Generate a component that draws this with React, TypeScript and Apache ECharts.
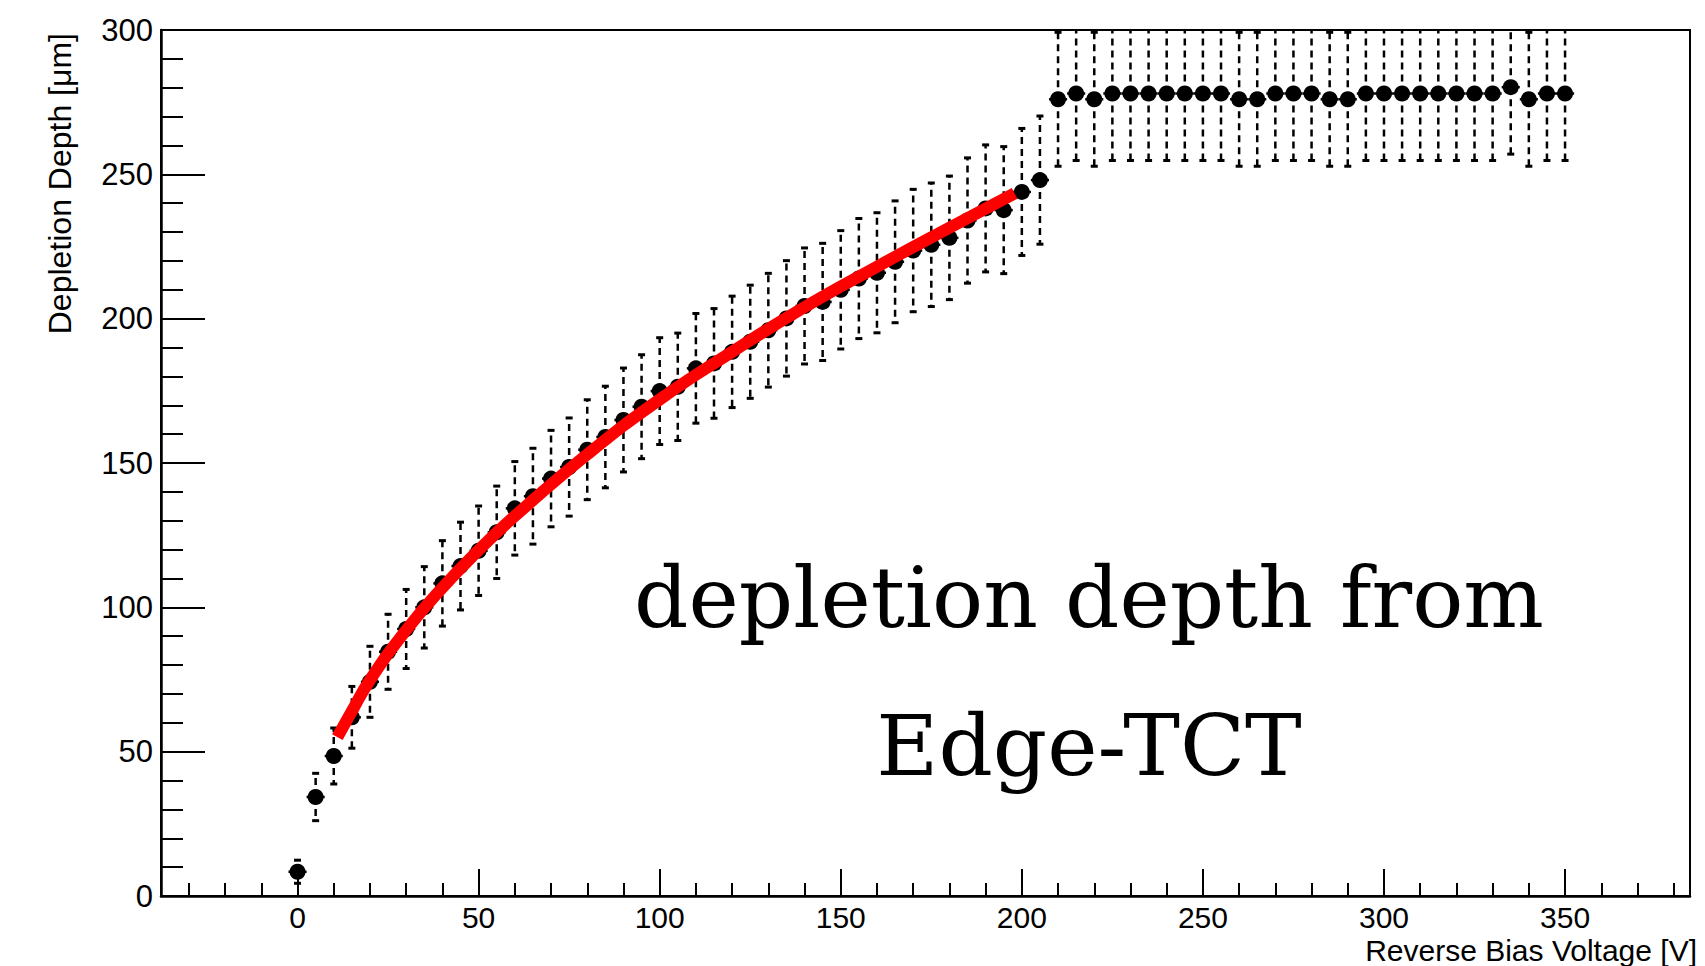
import React, { useEffect, useRef } from "react";
import * as echarts from "echarts";

// ---- data ----
const voltages = [
  0, 5, 10, 15, 20, 25, 30, 35, 40, 45, 50, 55, 60, 65, 70, 75, 80, 85, 90, 95,
  100, 105, 110, 115, 120, 125, 130, 135, 140, 145, 150, 155, 160, 165, 170, 175,
  180, 185, 190, 195, 200, 205, 210, 215, 220, 225, 230, 235, 240, 245, 250, 255,
  260, 265, 270, 275, 280, 285, 290, 295, 300, 305, 310, 315, 320, 325, 330, 335,
  340, 345, 350,
];
const depths = [
  8.4, 34.3, 48.5, 61.9, 74.2, 84.6, 92.5, 100, 108.3, 114.3, 119.6, 126, 134.3,
  138.5, 144.6, 148.6, 154.6, 159, 164.9, 169.5, 174.9, 176.4, 182.8, 184.5, 188.5,
  192, 196, 200.1, 204.4, 205.8, 210, 213.9, 215.9, 219.7, 223.6, 225.6, 228, 234,
  238.2, 237.6, 243.9, 248, 276, 278, 276, 278, 278, 278, 278, 278, 278, 278, 276,
  276, 278, 278, 278, 276, 276, 278, 278, 278, 278, 278, 278, 278, 278, 280.2, 276,
  278, 278,
];
const depthErrors = [
  4, 8.2, 9.7, 10.7, 12.3, 13, 13.7, 14.1, 14.8, 15.2, 15.5, 16, 16.2, 16.6, 16.7,
  17, 17.3, 17.6, 18, 18, 18.5, 18.6, 19, 19, 19.3, 19.6, 19.7, 20, 20.1, 20.3, 20.5,
  20.8, 20.8, 21.1, 21.2, 21.4, 21.4, 21.7, 22, 22, 22, 22.2, 23.2, 23.2, 23.2, 23.2,
  23.2, 23.2, 23.2, 23.2, 23.2, 23.2, 23.2, 23.2, 23.2, 23.2, 23.2, 23.2, 23.2, 23.2,
  23.2, 23.2, 23.2, 23.2, 23.2, 23.2, 23.2, 23.2, 23.2, 23.2, 23.2,
];
const voltageError = 2.5;

// red fit curve
const fitVoltages = [11, 15, 20, 30, 40, 50, 60, 80, 100, 120, 140, 160, 180, 198];
const fitDepths = [55, 64, 74.8, 92.1, 106.8, 119.8, 131.6, 153, 172, 188.5, 204, 218, 231.5, 243.4];

// axes
const xMin = -37.7;
const xMax = 384.5;
const yMin = 0;
const yMax = 300;
const xMajorTicks = [0, 50, 100, 150, 200, 250, 300, 350];
const xMinorTicks = [
  -30, -20, -10, 0, 10, 20, 30, 40, 50, 60, 70, 80, 90, 100, 110, 120, 130, 140,
  150, 160, 170, 180, 190, 200, 210, 220, 230, 240, 250, 260, 270, 280, 290, 300,
  310, 320, 330, 340, 350, 360, 370, 380,
];
const yInterval = 50;

const xTitle = "Reverse Bias Voltage [V]";
const yTitle = "Depletion Depth [\u03bcm]";
const noteLine1 = "depletion depth from";
const noteLine2 = "Edge-TCT";

const SANS = "'Liberation Sans', Arial, Helvetica, sans-serif";
const SERIF = "'DejaVu Serif', serif";

export default function App() {
  const ref = useRef<HTMLDivElement>(null);

  useEffect(() => {
    if (!ref.current) return;
    const chart = echarts.init(ref.current, null, { renderer: "svg" });

    const pointData = voltages.map((v, i) => [v, depths[i]]);
    const errData = voltages.map((v, i) => [v, depths[i], depthErrors[i], voltageError]);
    const fitData = fitVoltages.map((v, i) => [v, fitDepths[i]]);

    const option: any = {
      animation: false,
      backgroundColor: "#ffffff",
      grid: {
        left: 161,
        top: 30,
        right: 15,
        bottom: 70,
        show: true,
        borderColor: "#000",
        borderWidth: 2,
        backgroundColor: "transparent",
      },
      xAxis: [
        {
          type: "value",
          min: xMin,
          max: xMax,
          position: "bottom",
          axisLine: { show: true, onZero: false, lineStyle: { color: "#000", width: 2.5 } },
          axisTick: {
            show: true,
            inside: true,
            length: 27,
            customValues: xMajorTicks,
            lineStyle: { color: "#000", width: 2 },
          },
          axisLabel: {
            show: true,
            customValues: xMajorTicks,
            fontSize: 30,
            lineHeight: 26,
            fontFamily: SANS,
            color: "#000",
            margin: 8,
          },
          splitLine: { show: false },
        },
        {
          type: "value",
          min: xMin,
          max: xMax,
          position: "bottom",
          axisLine: { show: false, onZero: false },
          axisTick: {
            show: true,
            inside: true,
            length: 13,
            customValues: xMinorTicks,
            lineStyle: { color: "#000", width: 2 },
          },
          axisLabel: { show: false },
          splitLine: { show: false },
        },
      ],
      yAxis: {
        type: "value",
        min: yMin,
        max: yMax,
        interval: yInterval,
        axisLine: { show: true, onZero: false, lineStyle: { color: "#000", width: 2.5 } },
        axisTick: { show: true, inside: true, length: 44, lineStyle: { color: "#000", width: 2 } },
        minorTick: { show: true, splitNumber: 5, length: 22, lineStyle: { color: "#000", width: 2 } },
        axisLabel: { fontSize: 31, fontFamily: SANS, color: "#000", margin: 8 },
        splitLine: { show: false },
      },
      series: [
        {
          type: "custom",
          xAxisIndex: 0,
          z: 2,
          clip: true,
          data: errData,
          renderItem: (params: any, api: any) => {
            const x = api.value(0);
            const y = api.value(1);
            const ey = api.value(2);
            const ex = api.value(3);
            const top = Math.min(y + ey, yMax);
            const bot = Math.max(y - ey, yMin);
            const pc = api.coord([x, y]);
            const pt = api.coord([x, top]);
            const pb = api.coord([x, bot]);
            const pl = api.coord([x - ex, y]);
            const pr = api.coord([x + ex, y]);
            const dashed = { stroke: "#000", lineWidth: 2.5, lineDash: [7, 5] };
            const solid = { stroke: "#000", lineWidth: 2.5 };
            const children: any[] = [
              { type: "line", shape: { x1: pc[0], y1: pc[1], x2: pt[0], y2: pt[1] }, style: dashed },
              { type: "line", shape: { x1: pc[0], y1: pc[1], x2: pb[0], y2: pb[1] }, style: dashed },
              { type: "line", shape: { x1: pl[0], y1: pl[1], x2: pr[0], y2: pr[1] }, style: solid },
            ];
            if (y + ey <= yMax) {
              children.push({
                type: "line",
                shape: { x1: pt[0] - 3.5, y1: pt[1], x2: pt[0] + 3.5, y2: pt[1] },
                style: { stroke: "#000", lineWidth: 3 },
              });
            }
            if (y - ey >= yMin) {
              children.push({
                type: "line",
                shape: { x1: pb[0] - 3.5, y1: pb[1], x2: pb[0] + 3.5, y2: pb[1] },
                style: { stroke: "#000", lineWidth: 3 },
              });
            }
            return { type: "group", children };
          },
        },
        {
          type: "scatter",
          xAxisIndex: 0,
          z: 3,
          symbol: "circle",
          symbolSize: 16,
          itemStyle: { color: "#000", opacity: 1 },
          data: pointData,
        },
        {
          type: "line",
          xAxisIndex: 0,
          z: 4,
          smooth: true,
          showSymbol: false,
          symbol: "none",
          lineStyle: { color: "#ff0000", width: 12, cap: "butt", opacity: 1 },
          data: fitData,
        },
      ],
      graphic: [
        {
          type: "text",
          x: 60,
          y: 33,
          rotation: Math.PI / 2,
          style: {
            text: yTitle,
            fontSize: 32,
            fontFamily: SANS,
            fill: "#000",
            align: "right",
            verticalAlign: "middle",
          },
        },
        {
          type: "text",
          x: 1697,
          y: 950,
          style: {
            text: xTitle,
            fontSize: 30,
            lineHeight: 26,
            fontFamily: SANS,
            fill: "#000",
            align: "right",
            verticalAlign: "middle",
          },
        },
        {
          type: "text",
          x: 1089,
          y: 597,
          style: {
            text: noteLine1,
            fontSize: 85,
            fontFamily: SERIF,
            fill: "#000",
            align: "center",
            verticalAlign: "middle",
          },
        },
        {
          type: "text",
          x: 1089,
          y: 745,
          style: {
            text: noteLine2,
            fontSize: 85,
            fontFamily: SERIF,
            fill: "#000",
            align: "center",
            verticalAlign: "middle",
          },
        },
      ],
    };

    chart.setOption(option);
    return () => {
      chart.dispose();
    };
  }, []);

  return (
    <div
      ref={ref}
      style={{ position: "absolute", left: 0, top: 0, width: 1705, height: 966 }}
    />
  );
}
